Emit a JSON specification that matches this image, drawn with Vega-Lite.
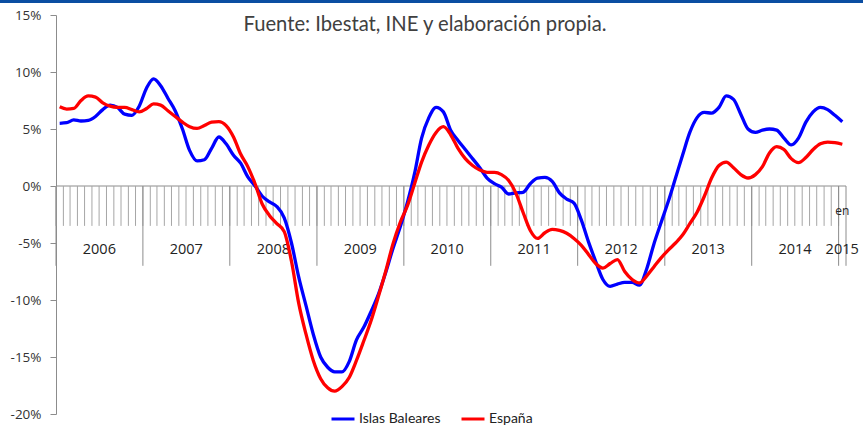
{
  "$schema": "https://vega.github.io/schema/vega-lite/v6.json",
  "autosize": {"type": "none"},
  "width": 790,
  "height": 399,
  "padding": {"left": 56, "top": 15, "right": 17, "bottom": 11},
  "background": "#ffffff",
  "config": {
    "view": {"stroke": null},
    "axisY": {
      "grid": false, "domainColor": "#8c8c8c", "tickColor": "#8c8c8c", "tickSize": 6,
      "labelPadding": 9, "labelFont": "Open Sans", "labelFontSize": 13.5, "labelColor": "#333333"
    }
  },
  "title": {
    "text": "Fuente: Ibestat, INE y elaboración propia.",
    "font": "Lato",
    "fontSize": 20.2,
    "fontWeight": "normal",
    "color": "#404040",
    "anchor": "middle",
    "frame": "group",
    "dx": -26,
    "dy": 40
  },
  "datasets": {
    "datos": [
      {"mes": "2006-01", "Islas Baleares": 5.5, "España": 6.95},
      {"mes": "2006-02", "Islas Baleares": 5.55, "España": 6.75},
      {"mes": "2006-03", "Islas Baleares": 5.8, "España": 6.8},
      {"mes": "2006-04", "Islas Baleares": 5.7, "España": 7.5},
      {"mes": "2006-05", "Islas Baleares": 5.75, "España": 7.9},
      {"mes": "2006-06", "Islas Baleares": 6.1, "España": 7.8},
      {"mes": "2006-07", "Islas Baleares": 6.7, "España": 7.3},
      {"mes": "2006-08", "Islas Baleares": 7.1, "España": 7.0},
      {"mes": "2006-09", "Islas Baleares": 6.9, "España": 6.9},
      {"mes": "2006-10", "Islas Baleares": 6.3, "España": 6.9},
      {"mes": "2006-11", "Islas Baleares": 6.2, "España": 6.7},
      {"mes": "2006-12", "Islas Baleares": 7.0, "España": 6.5},
      {"mes": "2007-01", "Islas Baleares": 8.6, "España": 6.8},
      {"mes": "2007-02", "Islas Baleares": 9.4, "España": 7.2},
      {"mes": "2007-03", "Islas Baleares": 8.8, "España": 7.1},
      {"mes": "2007-04", "Islas Baleares": 7.7, "España": 6.6},
      {"mes": "2007-05", "Islas Baleares": 6.6, "España": 6.1},
      {"mes": "2007-06", "Islas Baleares": 5.0, "España": 5.6},
      {"mes": "2007-07", "Islas Baleares": 3.1, "España": 5.2},
      {"mes": "2007-08", "Islas Baleares": 2.2, "España": 5.05},
      {"mes": "2007-09", "Islas Baleares": 2.3, "España": 5.3},
      {"mes": "2007-10", "Islas Baleares": 3.3, "España": 5.6},
      {"mes": "2007-11", "Islas Baleares": 4.3, "España": 5.65},
      {"mes": "2007-12", "Islas Baleares": 3.7, "España": 5.3},
      {"mes": "2008-01", "Islas Baleares": 2.7, "España": 4.3},
      {"mes": "2008-02", "Islas Baleares": 2.0, "España": 2.8},
      {"mes": "2008-03", "Islas Baleares": 0.8, "España": 1.7},
      {"mes": "2008-04", "Islas Baleares": 0.0, "España": 0.2},
      {"mes": "2008-05", "Islas Baleares": -0.9, "España": -1.6},
      {"mes": "2008-06", "Islas Baleares": -1.4, "España": -2.6},
      {"mes": "2008-07", "Islas Baleares": -1.8, "España": -3.3},
      {"mes": "2008-08", "Islas Baleares": -2.8, "España": -4.0},
      {"mes": "2008-09", "Islas Baleares": -5.0, "España": -6.6},
      {"mes": "2008-10", "Islas Baleares": -8.0, "España": -10.3},
      {"mes": "2008-11", "Islas Baleares": -10.5, "España": -13.0},
      {"mes": "2008-12", "Islas Baleares": -13.0, "España": -15.3},
      {"mes": "2009-01", "Islas Baleares": -15.0, "España": -16.9},
      {"mes": "2009-02", "Islas Baleares": -15.9, "España": -17.7},
      {"mes": "2009-03", "Islas Baleares": -16.3, "España": -18.0},
      {"mes": "2009-04", "Islas Baleares": -16.3, "España": -17.6},
      {"mes": "2009-05", "Islas Baleares": -15.4, "España": -16.8},
      {"mes": "2009-06", "Islas Baleares": -13.5, "España": -15.3},
      {"mes": "2009-07", "Islas Baleares": -12.4, "España": -13.6},
      {"mes": "2009-08", "Islas Baleares": -11.0, "España": -11.8},
      {"mes": "2009-09", "Islas Baleares": -9.5, "España": -9.7},
      {"mes": "2009-10", "Islas Baleares": -7.6, "España": -7.5},
      {"mes": "2009-11", "Islas Baleares": -5.5, "España": -5.1},
      {"mes": "2009-12", "Islas Baleares": -3.6, "España": -3.2},
      {"mes": "2010-01", "Islas Baleares": -1.4, "España": -1.7},
      {"mes": "2010-02", "Islas Baleares": 1.1, "España": 0.2},
      {"mes": "2010-03", "Islas Baleares": 4.2, "España": 2.1},
      {"mes": "2010-04", "Islas Baleares": 6.0, "España": 3.6},
      {"mes": "2010-05", "Islas Baleares": 6.9, "España": 4.7},
      {"mes": "2010-06", "Islas Baleares": 6.5, "España": 5.2},
      {"mes": "2010-07", "Islas Baleares": 4.9, "España": 4.5},
      {"mes": "2010-08", "Islas Baleares": 4.0, "España": 3.3},
      {"mes": "2010-09", "Islas Baleares": 3.2, "España": 2.4},
      {"mes": "2010-10", "Islas Baleares": 2.4, "España": 1.8},
      {"mes": "2010-11", "Islas Baleares": 1.6, "España": 1.4},
      {"mes": "2010-12", "Islas Baleares": 0.7, "España": 1.2},
      {"mes": "2011-01", "Islas Baleares": 0.2, "España": 1.2},
      {"mes": "2011-02", "Islas Baleares": -0.1, "España": 1.0},
      {"mes": "2011-03", "Islas Baleares": -0.7, "España": 0.5},
      {"mes": "2011-04", "Islas Baleares": -0.6, "España": -0.6},
      {"mes": "2011-05", "Islas Baleares": -0.55, "España": -2.3},
      {"mes": "2011-06", "Islas Baleares": 0.2, "España": -3.9},
      {"mes": "2011-07", "Islas Baleares": 0.7, "España": -4.6},
      {"mes": "2011-08", "Islas Baleares": 0.75, "España": -4.1},
      {"mes": "2011-09", "Islas Baleares": 0.4, "España": -3.8},
      {"mes": "2011-10", "Islas Baleares": -0.6, "España": -3.9},
      {"mes": "2011-11", "Islas Baleares": -1.15, "España": -4.15},
      {"mes": "2011-12", "Islas Baleares": -1.5, "España": -4.6},
      {"mes": "2012-01", "Islas Baleares": -3.0, "España": -5.2},
      {"mes": "2012-02", "Islas Baleares": -4.9, "España": -6.0},
      {"mes": "2012-03", "Islas Baleares": -6.6, "España": -6.8},
      {"mes": "2012-04", "Islas Baleares": -8.2, "España": -7.2},
      {"mes": "2012-05", "Islas Baleares": -8.8, "España": -6.8},
      {"mes": "2012-06", "Islas Baleares": -8.6, "España": -6.45},
      {"mes": "2012-07", "Islas Baleares": -8.45, "España": -7.5},
      {"mes": "2012-08", "Islas Baleares": -8.45, "España": -8.2},
      {"mes": "2012-09", "Islas Baleares": -8.7, "España": -8.5},
      {"mes": "2012-10", "Islas Baleares": -7.3, "España": -7.9},
      {"mes": "2012-11", "Islas Baleares": -5.1, "España": -7.1},
      {"mes": "2012-12", "Islas Baleares": -3.2, "España": -6.3},
      {"mes": "2013-01", "Islas Baleares": -1.3, "España": -5.6},
      {"mes": "2013-02", "Islas Baleares": 0.7, "España": -5.0},
      {"mes": "2013-03", "Islas Baleares": 2.7, "España": -4.3},
      {"mes": "2013-04", "Islas Baleares": 4.7, "España": -3.3},
      {"mes": "2013-05", "Islas Baleares": 6.0, "España": -2.3},
      {"mes": "2013-06", "Islas Baleares": 6.45, "España": -0.9},
      {"mes": "2013-07", "Islas Baleares": 6.4, "España": 0.7},
      {"mes": "2013-08", "Islas Baleares": 6.9, "España": 1.8},
      {"mes": "2013-09", "Islas Baleares": 7.9, "España": 2.1},
      {"mes": "2013-10", "Islas Baleares": 7.6, "España": 1.6},
      {"mes": "2013-11", "Islas Baleares": 6.3, "España": 1.0},
      {"mes": "2013-12", "Islas Baleares": 5.0, "España": 0.7},
      {"mes": "2014-01", "Islas Baleares": 4.7, "España": 1.0},
      {"mes": "2014-02", "Islas Baleares": 4.9, "España": 1.7},
      {"mes": "2014-03", "Islas Baleares": 5.0, "España": 2.9},
      {"mes": "2014-04", "Islas Baleares": 4.9, "España": 3.45},
      {"mes": "2014-05", "Islas Baleares": 4.2, "España": 3.2},
      {"mes": "2014-06", "Islas Baleares": 3.6, "España": 2.4},
      {"mes": "2014-07", "Islas Baleares": 4.2, "España": 2.05},
      {"mes": "2014-08", "Islas Baleares": 5.6, "España": 2.5},
      {"mes": "2014-09", "Islas Baleares": 6.5, "España": 3.2},
      {"mes": "2014-10", "Islas Baleares": 6.9, "España": 3.7},
      {"mes": "2014-11", "Islas Baleares": 6.7, "España": 3.85},
      {"mes": "2014-12", "Islas Baleares": 6.2, "España": 3.8},
      {"mes": "2015-01", "Islas Baleares": 5.64, "España": 3.66}
    ],
    "anios": [
      {"inicio": "2006-01-01", "centro": "2006-07-02", "etiqueta": "2006"},
      {"inicio": "2007-01-01", "centro": "2007-07-02", "etiqueta": "2007"},
      {"inicio": "2008-01-01", "centro": "2008-07-02", "etiqueta": "2008"},
      {"inicio": "2009-01-01", "centro": "2009-07-02", "etiqueta": "2009"},
      {"inicio": "2010-01-01", "centro": "2010-07-02", "etiqueta": "2010"},
      {"inicio": "2011-01-01", "centro": "2011-07-02", "etiqueta": "2011"},
      {"inicio": "2012-01-01", "centro": "2012-07-02", "etiqueta": "2012"},
      {"inicio": "2013-01-01", "centro": "2013-07-02", "etiqueta": "2013"},
      {"inicio": "2014-01-01", "centro": "2014-07-02", "etiqueta": "2014"},
      {"inicio": "2015-01-01", "centro": "2015-01-16", "etiqueta": "2015"},
      {"inicio": "2015-02-01", "centro": "2015-02-01", "etiqueta": ""}
    ]
  },
  "layer": [
    {
      "data": {"values": [{"inicio": "2005-03-01", "fin": "2015-06-01"}]},
      "mark": {"type": "rule", "color": "#0b4ea2", "strokeWidth": 4, "clip": false},
      "encoding": {
        "x": {"field": "inicio", "type": "temporal", "axis": null},
        "x2": {"field": "fin"},
        "y": {"datum": 16.23, "type": "quantitative",
          "axis": {"title": null, "values": [-20, -15, -10, -5, 0, 5, 10, 15], "labelExpr": "datum.value + '%'"}}
      }
    },
    {
      "data": {"values": [{"cero": 0}]},
      "mark": {"type": "rule", "color": "#8c8c8c", "strokeWidth": 1},
      "encoding": {
        "y": {"field": "cero", "type": "quantitative",
          "axis": {"title": null, "values": [-20, -15, -10, -5, 0, 5, 10, 15], "labelExpr": "datum.value + '%'"}}
      }
    },
    {
      "data": {"name": "datos"},
      "mark": {"type": "rule", "color": "#a6a6a6", "strokeWidth": 1},
      "encoding": {
        "x": {"field": "mes", "timeUnit": "utcyearmonth", "type": "temporal", "bandPosition": 0, "axis": null},
        "y": {"datum": 0, "type": "quantitative",
          "axis": {"title": null, "values": [-20, -15, -10, -5, 0, 5, 10, 15], "labelExpr": "datum.value + '%'"}},
        "y2": {"datum": -3.5}
      }
    },
    {
      "data": {"name": "anios"},
      "mark": {"type": "rule", "color": "#8c8c8c", "strokeWidth": 1},
      "encoding": {
        "x": {"field": "inicio", "type": "temporal", "axis": null},
        "y": {"datum": 0, "type": "quantitative",
          "axis": {"title": null, "values": [-20, -15, -10, -5, 0, 5, 10, 15], "labelExpr": "datum.value + '%'"}},
        "y2": {"datum": -7.0}
      }
    },
    {
      "data": {"name": "anios"},
      "mark": {"type": "text", "font": "Open Sans", "fontSize": 14.5, "color": "#222222", "baseline": "middle", "align": "center"},
      "encoding": {
        "x": {"field": "centro", "type": "temporal", "axis": null},
        "y": {"datum": -5.6, "type": "quantitative",
          "axis": {"title": null, "values": [-20, -15, -10, -5, 0, 5, 10, 15], "labelExpr": "datum.value + '%'"}},
        "text": {"field": "etiqueta"}
      }
    },
    {
      "data": {"values": [{"mes": "2015-01-16", "texto": "en"}]},
      "mark": {"type": "text", "font": "Open Sans", "fontSize": 12, "color": "#222222", "baseline": "middle", "align": "center"},
      "encoding": {
        "x": {"field": "mes", "type": "temporal", "axis": null},
        "y": {"datum": -2.2, "type": "quantitative",
          "axis": {"title": null, "values": [-20, -15, -10, -5, 0, 5, 10, 15], "labelExpr": "datum.value + '%'"}},
        "text": {"field": "texto"}
      }
    },
    {
      "data": {"name": "datos"},
      "transform": [{"fold": ["Islas Baleares", "España"], "as": ["serie", "tasa"]}],
      "mark": {"type": "line", "strokeWidth": 3.3, "interpolate": "monotone"},
      "encoding": {
        "x": {
          "field": "mes", "timeUnit": "utcyearmonth", "type": "temporal", "bandPosition": 0.5, "axis": null,
          "scale": {"type": "utc", "domain": [{"year": 2006, "month": 1, "date": 1, "utc": true}, {"year": 2015, "month": 2, "date": 1, "utc": true}], "nice": false}
        },
        "y": {
          "field": "tasa", "type": "quantitative",
          "scale": {"domain": [-20, 15], "nice": false, "zero": false},
          "axis": {"title": null, "values": [-20, -15, -10, -5, 0, 5, 10, 15], "labelExpr": "datum.value + '%'"}
        },
        "color": {
          "field": "serie", "type": "nominal", "sort": ["Islas Baleares", "España"],
          "scale": {"domain": ["Islas Baleares", "España"], "range": ["#0000ff", "#ff0000"]},
          "legend": {
            "orient": "none", "legendX": 274, "legendY": 391, "direction": "horizontal",
            "title": null, "symbolType": "stroke", "symbolStrokeWidth": 3, "symbolSize": 529,
            "labelFont": "Lato", "labelFontSize": 14, "labelColor": "#222222", "labelOffset": 3,
            "columnPadding": 14, "padding": 0
          }
        }
      }
    }
  ]
}
